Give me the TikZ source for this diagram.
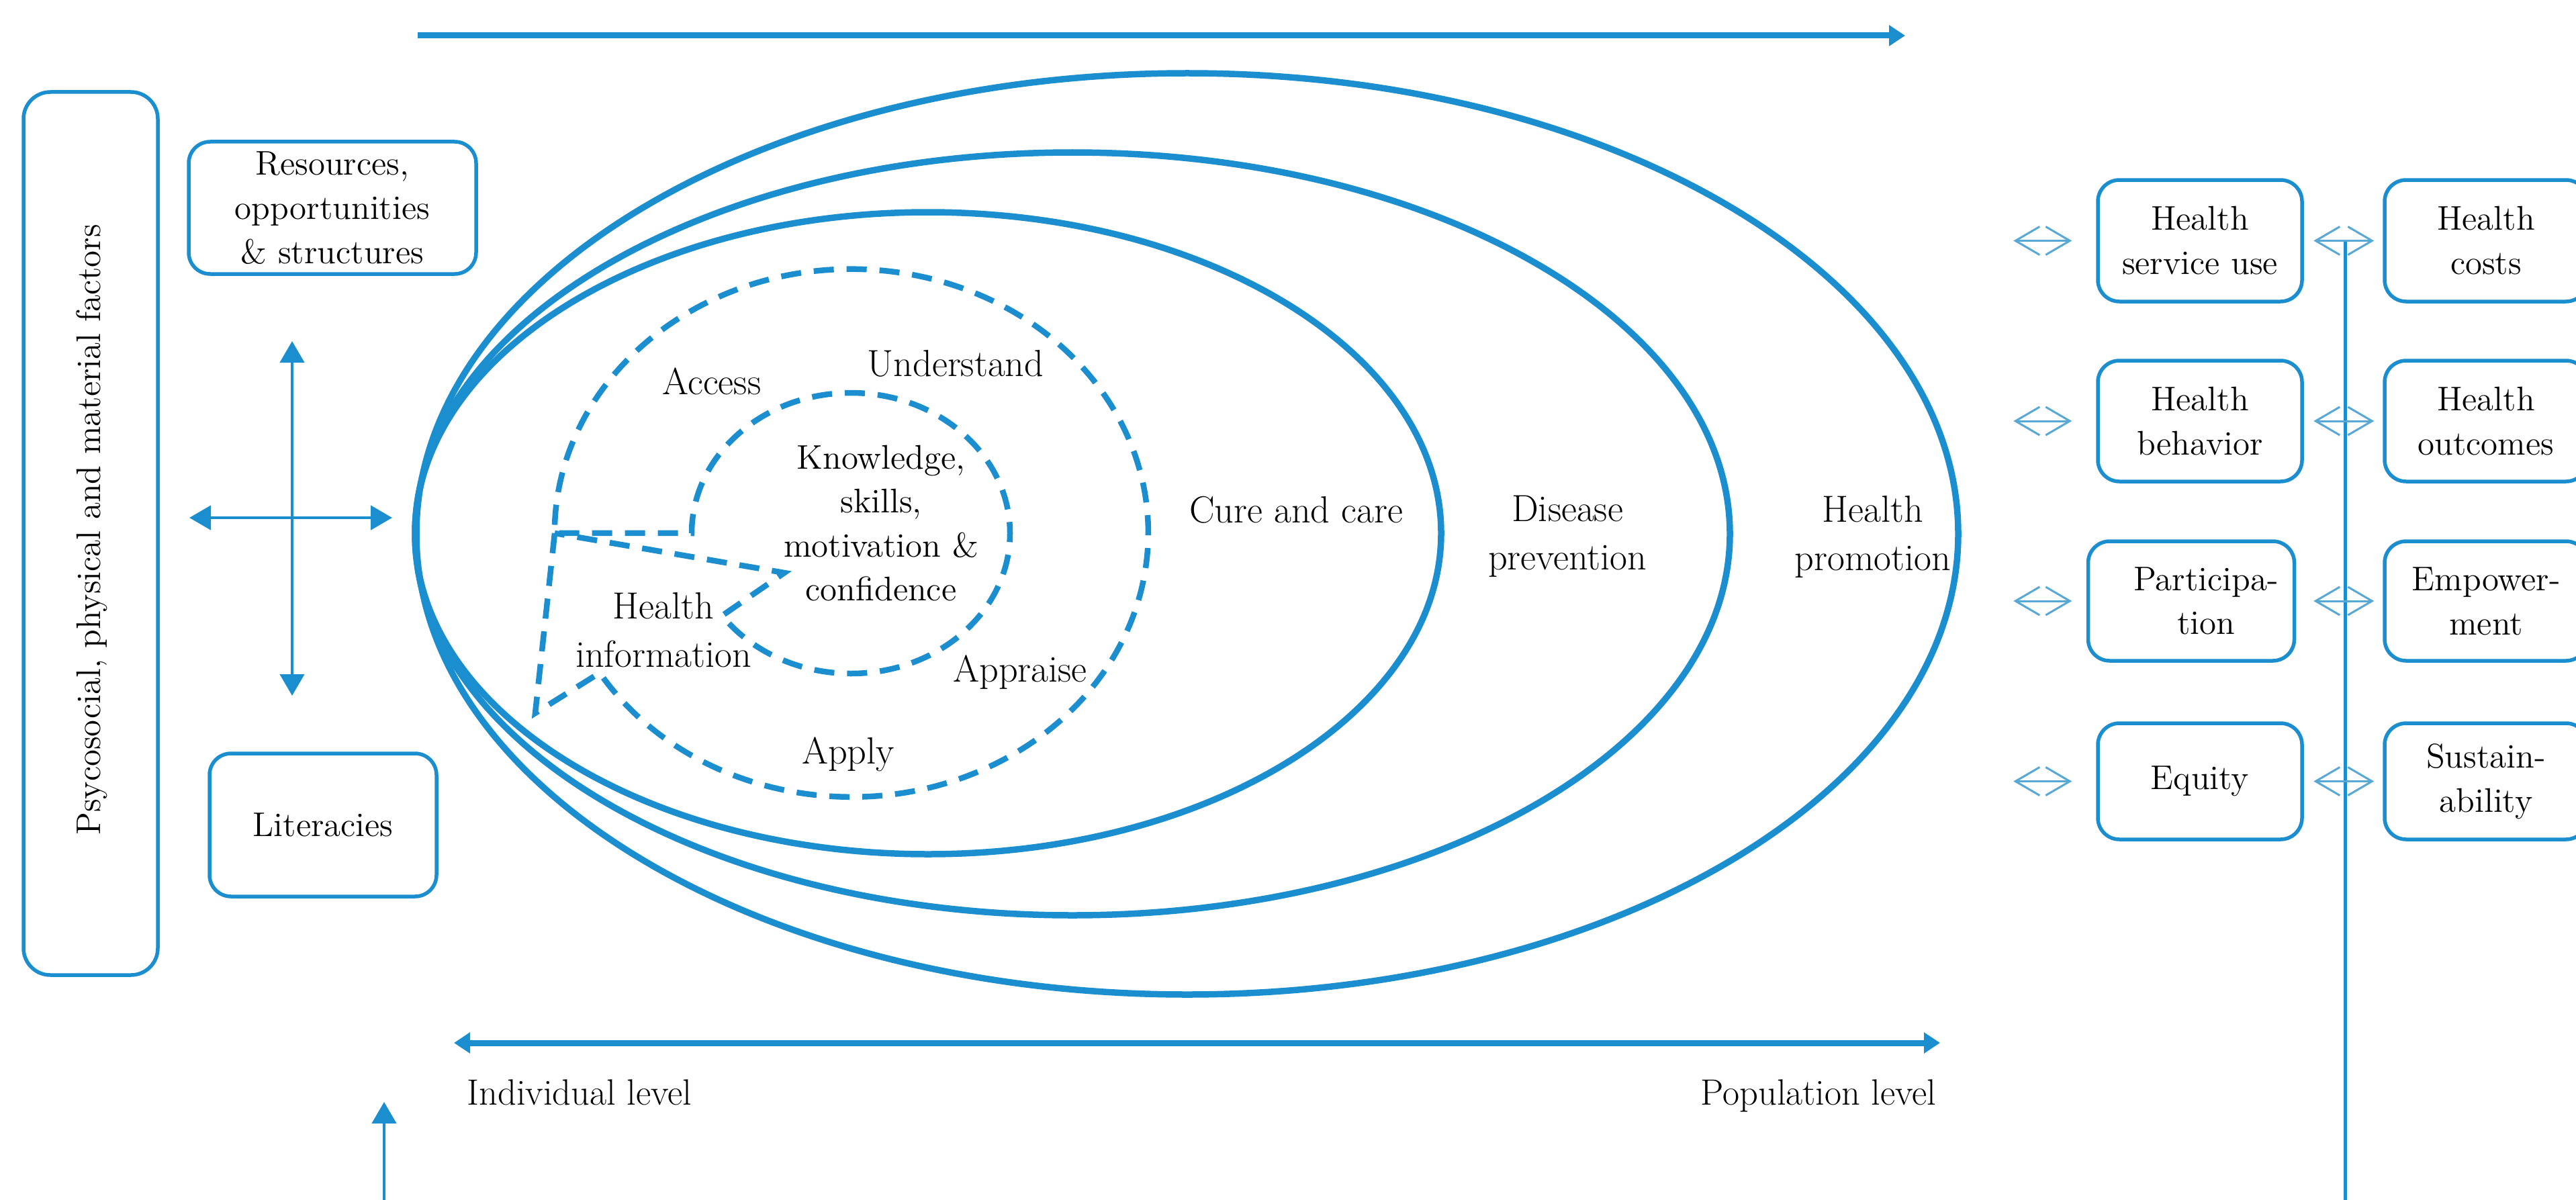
\documentclass[tikz,border=0pt]{standalone}
\usetikzlibrary{arrows.meta}
\definecolor{hlblue}{RGB}{26,142,207}
\definecolor{hllight}{RGB}{88,168,214}
\tikzset{
  lbl/.style={font=\fontsize{16}{20.5}\selectfont, align=center, inner sep=0pt},
  smalllbl/.style={font=\fontsize{14.5}{18.6}\selectfont, align=center, inner sep=0pt},
  box/.style={draw=hlblue, line width=0.055cm, rounded corners=0.32cm, font=\fontsize{14.5}{18.8}\selectfont, align=center, inner sep=0pt},
  ell/.style={draw=hlblue, line width=0.095cm},
  dsh/.style={draw=hlblue, line width=0.085cm, dash pattern=on 0.3cm off 0.19cm},
  thinarr/.style={draw=hlblue, line width=0.045cm},
  tri/.tip={Triangle[length=0.32cm,width=0.36cm]},
  bigtri/.tip={Triangle[length=0.24cm,width=0.3cm]},
  openarr/.style={draw=hllight, line width=0.03cm, {Straight Barb[length=0.36cm,width=0.42cm]}-{Straight Barb[length=0.36cm,width=0.42cm]}},
}
\begin{document}
\begin{tikzpicture}
\useasboundingbox (0,0) rectangle (38.36,-17.87);
\clip (0,0) rectangle (38.36,-17.87);

% left column
\node[box, rounded corners=0.4cm, minimum width=2cm, minimum height=13.15cm] (psy) at (1.35,-7.945) {};
\node[smalllbl, rotate=90] (psyt) at (1.37,-7.89) {Psycosocial, physical and material factors};
\node[box, minimum width=4.28cm, minimum height=1.97cm] (res) at (4.95,-3.095) {Resources,\\opportunities\\\& structures};
\node[box, minimum width=3.38cm, minimum height=2.13cm] (lit) at (4.81,-12.285) {Literacies};

% cross arrows
\coordinate (ctop) at (4.35,-5.08);
\coordinate (cbot) at (4.35,-10.36);
\coordinate (cleft) at (2.82,-7.71);
\coordinate (cright) at (5.84,-7.71);
\draw[thinarr, tri-tri] (ctop) -- (cbot);
\draw[thinarr, tri-tri] (cleft) -- (cright);

% top and bottom arrows
\coordinate (topL) at (6.22,-0.53);
\coordinate (topR) at (28.37,-0.53);
\draw[hlblue, line width=0.09cm, -bigtri] (topL) -- (topR);
\coordinate (indL) at (6.76,-15.53);
\coordinate (popR) at (28.89,-15.53);
\draw[hlblue, line width=0.09cm, bigtri-bigtri] (indL) -- (popR);
\coordinate (blB) at (5.72,-17.95);
\coordinate (blT) at (5.72,-16.41);
\draw[thinarr, -tri] (blB) -- (blT);
\node[font=\fontsize{15.5}{19}\selectfont, inner sep=0pt, anchor=base west] (indiv) at (6.95,-16.45) {Individual level};
\node[font=\fontsize{15.5}{19}\selectfont, inner sep=0pt, anchor=base east] (popul) at (28.84,-16.45) {Population level};

% ellipses
\draw[ell] (17.68,-7.95) ellipse [x radius=11.48, y radius=6.86];
\draw[ell] (15.97,-7.95) ellipse [x radius=9.79, y radius=5.68];
\draw[ell] (13.82,-7.94) ellipse [x radius=7.64, y radius=4.78];

% dashed shapes
\draw[dsh] (8.26,-7.94) -- (7.97,-10.62) -- (8.93,-10.02)
  arc[start angle=212, end angle=540, x radius=4.42, y radius=3.93]
  -- (10.30,-7.94)
  arc[start angle=180, end angle=-144, x radius=2.37, y radius=2.09]
  -- (11.68,-8.53) -- cycle;

% labels in the ellipses
\node[lbl] (access) at (10.60,-5.68) {Access};
\node[lbl] (underst) at (14.23,-5.41) {Understand};
\node[smalllbl] (knowl) at (13.12,-7.79) {Knowledge,\\skills,\\motivation \&\\confidence};
\node[lbl] (hinfo) at (9.88,-9.38) {Health\\information};
\node[lbl] (appraise) at (15.19,-10.01) {Appraise};
\node[lbl] (apply) at (12.63,-11.23) {Apply};
\node[lbl] (cure) at (19.30,-7.59) {Cure and care};
\node[lbl] (disprev) at (23.34,-7.99) {Disease\\prevention};
\node[lbl] (hprom) at (27.89,-7.99) {Health\\promotion};

% right boxes
\node[box, minimum width=3.04cm, minimum height=1.81cm] (hsu) at (32.76,-3.585) {Health\\service use};
\node[box, minimum width=3.04cm, minimum height=1.80cm] (hbeh) at (32.76,-6.27) {Health\\behavior};
\node[box, minimum width=3.07cm, minimum height=1.78cm] (part) at (32.63,-8.95) {};
\node[smalllbl] (partt) at (32.85,-8.95) {Participa-\\tion};
\node[box, minimum width=3.04cm, minimum height=1.73cm] (equ) at (32.76,-11.635) {Equity};
\node[box, minimum width=3.02cm, minimum height=1.81cm] (hcost) at (37.02,-3.585) {Health\\costs};
\node[box, minimum width=3.02cm, minimum height=1.80cm] (hout) at (37.02,-6.27) {Health\\outcomes};
\node[box, minimum width=3.02cm, minimum height=1.78cm] (emp) at (37.02,-8.95) {Empower-\\ment};
\node[box, minimum width=3.02cm, minimum height=1.73cm] (sus) at (37.02,-11.635) {Sustain-\\ability};

% vertical line
\coordinate (vtop) at (34.92,-3.57);
\coordinate (vbot) at (34.92,-17.95);
\draw[hlblue, line width=0.05cm] (vtop) -- (vbot);

% open double arrows
\foreach \b in {hcost, hout, emp, sus}{
  \draw[openarr] ([xshift=-5.50cm]\b.west) -- ([xshift=-4.63cm]\b.west);
  \draw[openarr] ([xshift=-1.03cm]\b.west) -- ([xshift=-0.13cm]\b.west);
}
\end{tikzpicture}
\end{document}
